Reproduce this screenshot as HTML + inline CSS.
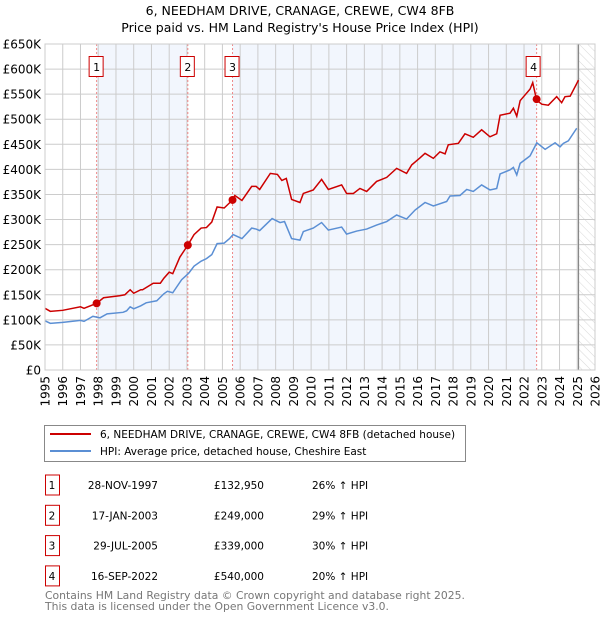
<!DOCTYPE html>
<html><head><meta charset="utf-8"><style>
body{margin:0;background:#fff;width:600px;height:620px;overflow:hidden;font-family:"DejaVu Sans","Liberation Sans",sans-serif;}
svg text{font-family:"DejaVu Sans","Liberation Sans",sans-serif;}
</style></head><body>
<svg id="chart" width="600" height="620" xmlns="http://www.w3.org/2000/svg">
<defs><pattern id="hatch" width="6" height="6" patternUnits="userSpaceOnUse" patternTransform="rotate(-45)"><line x1="0" y1="0" x2="0" y2="6" stroke="#d8d8d8" stroke-width="1"/></pattern></defs>
<text x="300" y="15" text-anchor="middle" font-size="12.5">6, NEEDHAM DRIVE, CRANAGE, CREWE, CW4 8FB</text>
<text x="300" y="32" text-anchor="middle" font-size="12.5">Price paid vs. HM Land Registry's House Price Index (HPI)</text>
<g id="plot"></g>
<g>
<rect x="44.5" y="425.5" width="421" height="36" fill="#fff" stroke="#888"/>
<line x1="50" y1="434" x2="91" y2="434" stroke="#cc0000" stroke-width="2"/>
<text x="100" y="438" font-size="10.5">6, NEEDHAM DRIVE, CRANAGE, CREWE, CW4 8FB (detached house)</text>
<line x1="50" y1="451" x2="91" y2="451" stroke="#5b8fd4" stroke-width="2"/>
<text x="100" y="455" font-size="10.5">HPI: Average price, detached house, Cheshire East</text>
</g>
<g id="table" font-size="10.5"></g>
<text x="45" y="599" font-size="10.8" fill="#777">Contains HM Land Registry data © Crown copyright and database right 2025.</text>
<text x="45" y="610" font-size="10.8" fill="#777">This data is licensed under the Open Government Licence v3.0.</text>
</svg>
<script>
const hpiYears=[1995,1995.3,1996,1997,1997.2,1997.7,1998.1,1998.5,1999.4,1999.6,1999.8,2000,2000.4,2000.7,2001.3,2001.7,2001.9,2002.2,2002.7,2003.1,2003.4,2003.8,2004.1,2004.4,2004.7,2005.1,2005.4,2005.6,2006.1,2006.65,2006.9,2007.1,2007.8,2008.25,2008.5,2008.9,2009.37,2009.56,2010.12,2010.59,2010.97,2011.72,2012.0,2012.57,2013.13,2013.69,2014.26,2014.82,2015.38,2015.86,2016.42,2016.89,2017.64,2017.83,2018.39,2018.77,2019.14,2019.61,2020.08,2020.46,2020.65,2021.21,2021.4,2021.59,2021.78,2022.34,2022.72,2023.19,2023.75,2024.03,2024.22,2024.5,2024.97];
const hpiValues=[98,93,95,99,97,107,104,112,115,118,126,122,128,134,138,152,157,154,180,193,207,217,222,230,252,253,262,270,262,283,281,278,302,294,296,262,259,276,283,294,279,285,271,277,281,289,296,309,301,319,334,327,336,347,348,360,356,369,359,362,391,399,404,389,412,427,453,440,453,445,452,457,482];
const ppYears=[1995,1995.3,1996,1997,1997.2,1997.91,1998.3,1999.2,1999.5,1999.8,2000,2000.4,2000.5,2001.1,2001.5,2001.7,2002.0,2002.2,2002.6,2003.05,2003.4,2003.8,2004.1,2004.4,2004.7,2005.1,2005.57,2005.7,2006.1,2006.65,2006.9,2007.1,2007.7,2008.1,2008.35,2008.6,2008.9,2009.37,2009.56,2010.12,2010.59,2010.97,2011.72,2012.0,2012.38,2012.75,2013.13,2013.69,2014.26,2014.82,2015.38,2015.67,2016.14,2016.42,2016.89,2017.26,2017.55,2017.73,2018.3,2018.67,2019.14,2019.61,2020.08,2020.46,2020.65,2021.21,2021.4,2021.59,2021.78,2022.34,2022.49,2022.71,2023.0,2023.37,2023.84,2024.12,2024.31,2024.6,2025.07];
const ppValues=[123,117,119,126,123,133,144,148,150,160,153,160,160,173,173,183,195,192,225,249,270,283,284,295,325,323,339,348,338,366,366,360,392,390,378,382,340,334,352,359,380,360,369,352,352,362,356,376,384,402,392,409,423,432,422,435,431,449,452,471,464,479,465,471,508,512,522,506,537,560,573,538,530,528,545,533,545,546,578];
const saleIds=["1","2","3","4"];
const saleYears=[1997.91,2003.05,2005.57,2022.71];
const saleValues=[132.95,249,339,540];
const saleDates=["28-NOV-1997","17-JAN-2003","29-JUL-2005","16-SEP-2022"];
const salePrices=["£132,950","£249,000","£339,000","£540,000"];
const saleDiffs=["26% ↑ HPI","29% ↑ HPI","30% ↑ HPI","20% ↑ HPI"];
const yTicks=[0,50,100,150,200,250,300,350,400,450,500,550,600,650];
const yTickLabels=["£0","£50K","£100K","£150K","£200K","£250K","£300K","£350K","£400K","£450K","£500K","£550K","£600K","£650K"];
const xTicks=[1995,1996,1997,1998,1999,2000,2001,2002,2003,2004,2005,2006,2007,2008,2009,2010,2011,2012,2013,2014,2015,2016,2017,2018,2019,2020,2021,2022,2023,2024,2025,2026];
const dataEndYear=2025.07;

const L=45,R=595,T=44,B=370;
const X=y=>L+(y-1995)/(2026-1995)*(R-L);
const Y=v=>B-v/650*(B-T);
const NS="http://www.w3.org/2000/svg";
const plot=document.getElementById('plot');
function mk(tag,attrs,parent){const e=document.createElementNS(NS,tag);for(const k in attrs)e.setAttribute(k,attrs[k]);(parent||plot).appendChild(e);return e;}

for(let i=0;i<saleYears.length;i+=2){
  const x1=X(saleYears[i]),x2=X(saleYears[i+1]);
  const r=mk('rect',{x:x1,y:T,width:x2-x1,height:B-T,fill:'#f2f6fd'});
  
  
}
const hx=X(dataEndYear);
const h=mk('rect',{x:hx,y:T,width:R-hx,height:B-T,fill:'url(#hatch)'});


yTicks.forEach((v,i)=>{
  const g=mk('line',{x1:L,x2:R,y1:Y(v),y2:Y(v),stroke:'#ccc','stroke-width':1});
  
  
  const t=mk('text',{x:L-4,y:Y(v)+4.5,'text-anchor':'end','font-size':12});
  t.textContent=yTickLabels[i];
  
  
});
xTicks.forEach(yr=>{
  const g=mk('line',{x1:X(yr),x2:X(yr),y1:T,y2:B,stroke:'#ccc','stroke-width':1});
  
  
  const t=mk('text',{x:0,y:0,'text-anchor':'end','font-size':12,transform:`translate(${X(yr)+4.5},${B+6}) rotate(-90)`});
  t.textContent=yr;
  
  
});
const el=mk('line',{x1:hx,x2:hx,y1:T,y2:B,stroke:'#888','stroke-width':1.2});


saleYears.forEach((yr,i)=>{
  const l=mk('line',{x1:X(yr),x2:X(yr),y1:T,y2:B,stroke:'#e88','stroke-width':1,'stroke-dasharray':'2,2'});
  
  
  const bx=X(yr)-(i==3?3:0);
  const r=mk('rect',{x:bx-7.5,y:56.5,width:14,height:20,fill:'#fff',stroke:'#cc0000'});
  
  
  const t=mk('text',{x:bx,y:71,'text-anchor':'middle','font-size':11});
  t.textContent=saleIds[i];
  
  
});
const hp=mk('polyline',{points:hpiYears.map((y,i)=>X(y)+','+Y(hpiValues[i])).join(' '),fill:'none',stroke:'#5b8fd4','stroke-width':1.5});


const pp=mk('polyline',{points:ppYears.map((y,i)=>X(y)+','+Y(ppValues[i])).join(' '),fill:'none',stroke:'#cc0000','stroke-width':1.5});


saleYears.forEach((yr,i)=>{
  const c=mk('circle',{cx:X(yr),cy:Y(saleValues[i]),r:4,fill:'#cc0000'});
  
  
});
const fr=mk('rect',{x:L,y:T,width:R-L,height:B-T,fill:'none',stroke:'#ccc'});



const tbl=document.getElementById('table');
saleIds.forEach((id,i)=>{
  const cy=485+i*30.3;
  const r=mk('rect',{x:45.5,y:cy-10,width:14,height:20,fill:'#fff',stroke:'#cc0000'},tbl);
  
  
  const cells=[[52,'middle',id,'row-number'],[158,'end',saleDates[i],'sale-date'],[264,'end',salePrices[i],'sale-price'],[312,'start',saleDiffs[i],'hpi-diff']];
  cells.forEach(c=>{
    const t=mk('text',{x:c[0],y:cy+4,'text-anchor':c[1]},tbl);
    t.textContent=c[2];
    
    
  });
});
</script>
</body></html>
